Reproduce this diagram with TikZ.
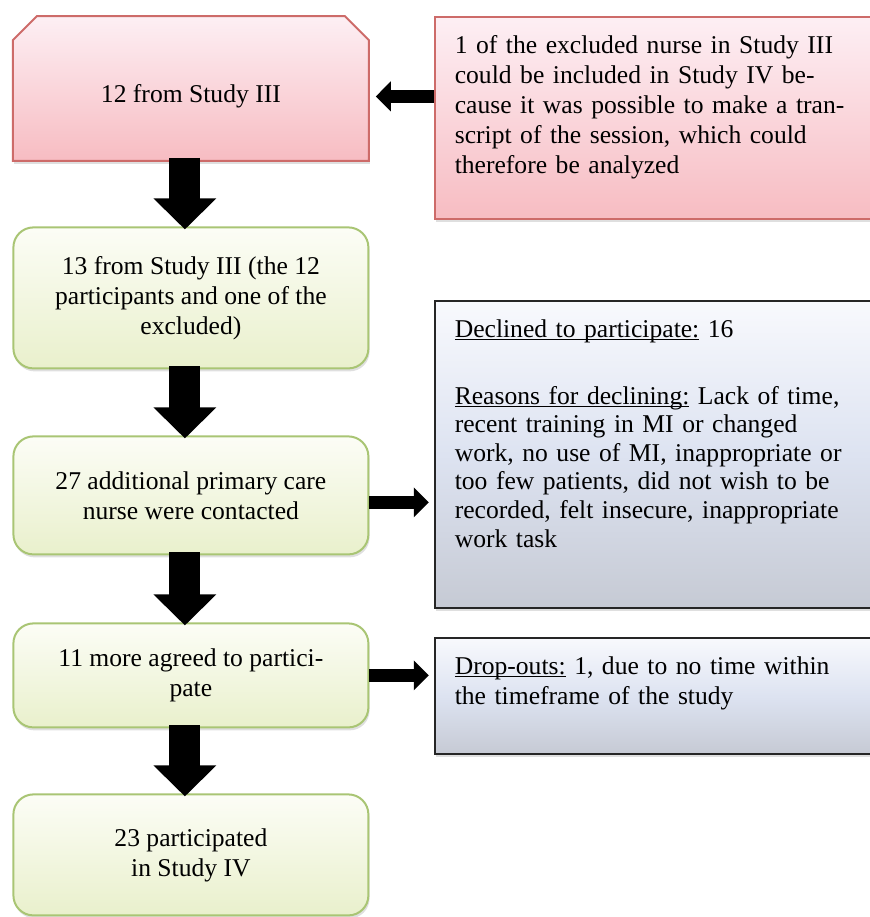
\documentclass[tikz,border=0pt]{standalone}
\usepackage{fontspec}
\setmainfont{Liberation Serif}
\usepackage{xcolor}
\usepackage{tikz}
\usetikzlibrary{positioning,arrows.meta,shadows,backgrounds}

\newcommand{\undl}[1]{\underline{\smash{#1}}}
\definecolor{pinkline}{HTML}{CD6B69}
\definecolor{pinktop}{HTML}{FDEFF4}
\definecolor{pinkbot}{HTML}{F7BCC2}
\definecolor{greenline}{HTML}{A9C574}
\definecolor{greentop}{HTML}{FCFDF6}
\definecolor{greenbot}{HTML}{E9F0CC}
\definecolor{greytop}{HTML}{F8F9FD}
\definecolor{greymid}{HTML}{DDE3F1}
\definecolor{greybot}{HTML}{C6CAD4}

\begin{document}
\begin{tikzpicture}[font={\fontsize{12.8}{15}\selectfont},
	soft/.style={drop shadow={opacity=0.25, shadow xshift=0.6pt, shadow yshift=-1.5pt}},
	pinkfill/.style={draw=pinkline, line width=1pt, top color=pinktop, bottom color=pinkbot, soft},
	greyfill/.style={draw=black!85, line width=1pt, top color=greytop, bottom color=greybot, middle color=greymid, soft},
	stage/.style={draw=greenline, line width=1pt, rounded corners=10pt, top color=greentop, bottom color=greenbot, soft, minimum width=177.5pt, align=center},
	note/.style={anchor=north, text width=203.5pt, inner xsep=10pt, inner ysep=0pt, align=left, text height=18pt},
	down/.style={line width=15.5pt, -{Triangle[width=30.5pt, length=15.5pt]}},
	side/.style={line width=6.7pt, -{Triangle[width=14.5pt, length=7.5pt]}}]
		\node[minimum width=177.5pt, minimum height=72pt, text height=17pt, text depth=3pt] (study3) {12 from Study III};
		\useasboundingbox ([shift={(-6.5pt,8pt)}]study3.north west) rectangle ++(435pt,-458.5pt);
		\begin{scope}[on background layer]
			\draw[pinkfill] (study3.south west) -- ([yshift=-12pt]study3.north west) -- ([xshift=12pt]study3.north west)
				-- ([xshift=-12pt]study3.north east) -- ([yshift=-12pt]study3.north east) -- (study3.south east) -- cycle;
		\end{scope}
		\node[stage, minimum height=70.5pt, below=32.8pt of study3] (thirteen) {13 from Study III (the 12\\participants and one of the\\excluded)};
		\node[stage, minimum height=59pt, below=33pt of thirteen] (contacted) {27 additional primary care\\nurse were contacted};
		\node[stage, minimum height=52pt, below=33.5pt of contacted] (agreed) {11 more agreed to partici-\\pate};
		\node[stage, minimum height=60.5pt, below=32.5pt of agreed] (joined) {23 participated\\in Study IV};

		\node[note, pinkfill, text depth=83pt, right=32.5pt of study3.north east, anchor=north west] (excluded) {1 of the excluded nurse in Study III\\could be included in Study IV be-\\cause it was possible to make a tran-\\script of the session, which could\\therefore be analyzed};
		\node[note, greyfill, text depth=135.5pt, below=40pt of excluded, font={\fontsize{12.8}{14.3}\selectfont}] (declined) {\undl{Declined to participate:} 16\\[19.2pt]\undl{Reasons for declining:} Lack of time,\\recent training in MI or changed\\work, no use of MI, inappropriate or\\too few patients, did not wish to be\\recorded, felt insecure, inappropriate\\work task};
		\node[note, greyfill, text depth=40pt, below=14pt of declined] (dropout) {\undl{Drop-outs:} 1, due to no time within\\the timeframe of the study};

		\draw[down] ([shift={(-3pt,1.5pt)}]study3.south) -- ([shift={(-3pt,-1.5pt)}]thirteen.north);
		\draw[down] ([shift={(-3pt,1.5pt)}]thirteen.south) -- ([shift={(-3pt,-1.5pt)}]contacted.north);
		\draw[down] ([shift={(-3pt,1.5pt)}]contacted.south) -- ([shift={(-3pt,-1.5pt)}]agreed.north);
		\draw[down] ([shift={(-3pt,1.5pt)}]agreed.south) -- ([shift={(-3pt,-1.5pt)}]joined.north);
		\draw[side] ([yshift=-4pt]study3.east -| excluded.west) -- ([shift={(3.5pt,-4pt)}]study3.east);
		\draw[side, shorten >=2.5pt] ([yshift=-3.5pt]contacted.east) -- ([yshift=-3.5pt]contacted.east -| declined.west);
		\draw[side, shorten >=2.5pt] (agreed.east) -- (agreed.east -| dropout.west);
	\end{tikzpicture}
\end{document}
